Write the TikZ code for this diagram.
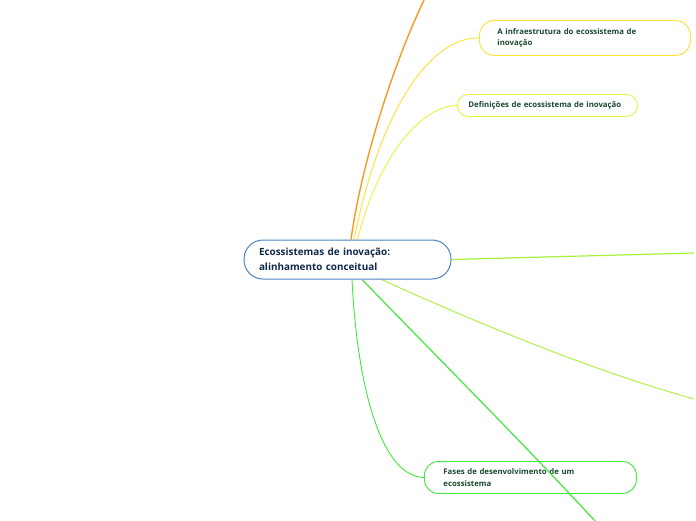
\documentclass[tikz,border=0pt]{standalone}
\usepackage{fontspec}
\setmainfont{Open Sans}
\usetikzlibrary{calc,backgrounds}

\definecolor{mainblue}{HTML}{4A86BE}
\definecolor{navytext}{HTML}{10284A}
\definecolor{greentext}{HTML}{1C4A2E}
\definecolor{branchorange}{HTML}{F79A22}
\definecolor{branchyellow}{HTML}{FFE033}
\definecolor{branchlemon}{HTML}{E9F23C}
\definecolor{branchlime}{HTML}{A8F03A}
\definecolor{branchgreen}{HTML}{3FE83A}

\tikzset{
  topic/.style={draw=#1, line width=0.9pt, fill=white, anchor=north west,
    align=left, inner ysep=0pt, text=greentext,
    font=\fontsize{7.8}{11.5}\selectfont\bfseries},
  branch/.style={draw=#1, line width=0.9pt},
}

\begin{document}
\begin{tikzpicture}[x=1pt,y=-1pt]

  \useasboundingbox (0,0) rectangle (696,520);

  % Central topic
  \node[draw=mainblue, line width=1pt, fill=white, rounded corners=19pt,
        minimum height=39pt, text width=177pt, inner xsep=15pt, inner ysep=0pt,
        align=left, text=navytext, font=\fontsize{9.9}{14.5}\selectfont\bfseries]
        (central) at (347.5,259.5) {Ecossistemas de inovação:\\alinhamento conceitual};

  % Subtopics
  \node[topic=branchyellow, rounded corners=15pt, minimum height=35pt,
        text width=175pt, inner xsep=18pt]
        (infra) at (479,20) {A infraestrutura do ecossistema de\\inovação};
  \node[topic=branchlemon, rounded corners=11pt, minimum height=22pt,
        text width=158pt, inner xsep=11pt]
        (defs) at (457,94) {Definições de ecossistema de inovação};
  \node[topic=branchgreen, rounded corners=14pt, minimum height=32pt,
        text width=174pt, inner xsep=19pt]
        (fases) at (424,461) {Fases de desenvolvimento de um\\ecossistema};

  % Free ends
  \coordinate (topend) at (425,-2);
  \coordinate (rightend) at (694,253);
  \coordinate (lowrightend) at (694,399);
  \coordinate (bottomend) at (596,522);

  % Connectors
  \begin{scope}[on background layer]
    \draw[branch=branchorange, line width=1.4pt] ($(central.north)+(3.5,0)$)
      .. controls (362,160) and (395,60) .. (topend);
    \draw[branch=branchyellow] ($(central.north)+(6.5,0)$)
      .. controls (380,110) and (430,37) .. (infra.west);
    \draw[branch=branchlemon] ($(central.north)+(10,0)$)
      .. controls (380,150) and (425,105) .. (defs.west);
    \draw[branch=branchlime, line width=1.2pt] (central.east) -- (rightend);
    \draw[branch=branchlime] ($(central.south)+(34,0)$)
      .. controls (470,320) and (590,370) .. (lowrightend);
    \draw[branch=branchgreen] ($(central.south)+(4.5,0)$)
      .. controls (358,400) and (385,477) .. (fases.west);
  \end{scope}
  % this one runs across the box
  \draw[branch=branchgreen, line width=1.2pt] ($(central.south)+(15,0.5)$)
    .. controls (440,360) and (520,440) .. (bottomend);

\end{tikzpicture}
\end{document}
